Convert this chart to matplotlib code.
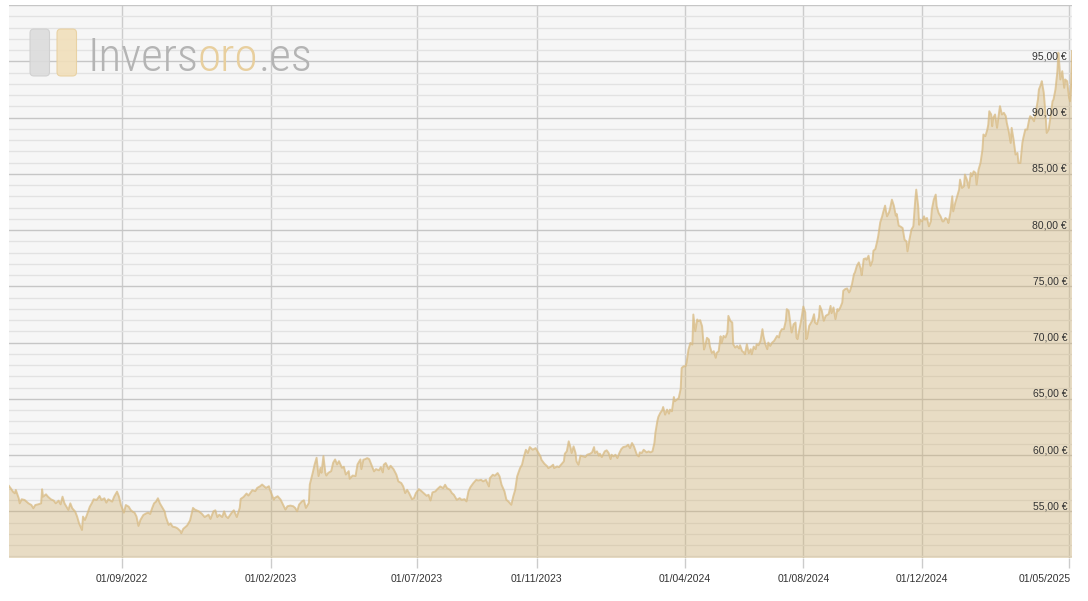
import numpy as np
import matplotlib
matplotlib.use('Agg')
import matplotlib.pyplot as plt
import matplotlib.dates as mdates
import matplotlib.transforms as mtransforms
from matplotlib import font_manager
from matplotlib.patches import FancyBboxPatch
from matplotlib.ticker import MultipleLocator

# price, day offsets counted from start_date
start_date = '2022-05-08'
days = [
    0, 3, 4, 6, 7, 10, 11, 13, 16, 20, 23, 25, 27, 30, 33, 34, 35, 38, 40, 43,
    46, 48, 51, 53, 55, 57, 59, 61, 63, 65, 68, 70, 72, 75, 76, 78, 80, 83, 85, 87,
    90, 93, 95, 98, 100, 102, 106, 108, 111, 113, 115, 118, 120, 123, 125, 127, 129, 131, 133, 135,
    138, 141, 143, 145, 147, 149, 151, 153, 155, 158, 160, 161, 164, 166, 168, 171, 173, 176, 177, 179,
    183, 186, 189, 191, 195, 198, 201, 205, 207, 210, 212, 214, 216, 219, 221, 223, 225, 229, 231, 234,
    237, 238, 241, 244, 246, 248, 250, 253, 255, 258, 260, 262, 264, 267, 268, 270, 272, 273, 276, 279,
    281, 284, 286, 289, 292, 294, 296, 298, 301, 303, 305, 308, 309, 312, 314, 316, 318, 320, 321, 323,
    325, 326, 328, 331, 333, 335, 337, 339, 342, 344, 346, 349, 350, 353, 356, 358, 361, 362, 364, 366,
    368, 370, 373, 375, 377, 380, 382, 384, 385, 387, 390, 392, 395, 398, 400, 403, 405, 407, 409, 411,
    414, 416, 418, 421, 423, 426, 429, 431, 433, 435, 438, 440, 443, 446, 448, 450, 453, 455, 457, 460,
    463, 465, 468, 470, 472, 474, 477, 480, 482, 485, 487, 490, 493, 494, 497, 499, 502, 504, 506, 509,
    511, 513, 516, 518, 520, 522, 525, 527, 529, 531, 533, 535, 538, 541, 543, 546, 547, 550, 553, 554,
    557, 559, 560, 563, 565, 567, 570, 571, 573, 575, 577, 578, 580, 582, 583, 585, 587, 590, 592, 594,
    597, 599, 601, 602, 604, 606, 607, 609, 612, 614, 616, 618, 619, 621, 623, 625, 627, 629, 631, 634,
    636, 638, 640, 642, 643, 645, 647, 648, 650, 652, 655, 657, 659, 661, 663, 664, 666, 667, 669, 671,
    672, 674, 676, 678, 679, 681, 683, 684, 686, 688, 690, 691, 693, 695, 696, 698, 700, 702, 703, 705,
    707, 708, 710, 712, 714, 715, 717, 719, 720, 722, 724, 726, 727, 729, 731, 732, 734, 736, 738, 739,
    741, 743, 744, 746, 748, 750, 751, 753, 755, 756, 758, 760, 762, 763, 765, 767, 768, 770, 772, 774,
    775, 777, 779, 780, 782, 784, 786, 787, 789, 791, 792, 794, 796, 798, 799, 801, 803, 804, 806, 808,
    809, 810, 812, 814, 815, 816, 818, 819, 820, 822, 825, 827, 828, 830, 832, 833, 835, 837, 839, 840,
    842, 844, 845, 847, 849, 851, 852, 854, 856, 857, 859, 861, 863, 864, 866, 868, 869, 871, 873, 875,
    876, 878, 880, 881, 883, 885, 887, 888, 890, 892, 893, 895, 897, 898, 900, 901, 902, 904, 905, 907,
    909, 911, 912, 914, 916, 918, 920, 922, 923, 925, 927, 929, 930, 931, 932, 934, 935, 936, 938, 940,
    941, 943, 945, 947, 948, 950, 952, 953, 955, 957, 959, 960, 962, 964, 965, 967, 969, 970, 972, 974,
    976, 977, 979, 981, 982, 984, 986, 988, 989, 991, 993, 994, 996, 998, 1000, 1001, 1003, 1005, 1006, 1007,
    1009, 1010, 1011, 1013, 1015, 1017, 1018, 1020, 1022, 1024, 1025, 1027, 1029, 1030, 1032, 1034, 1036, 1037, 1039, 1041,
    1042, 1044, 1046, 1048, 1049, 1051, 1053, 1054, 1055, 1057, 1058, 1060, 1061, 1063, 1065, 1066, 1068, 1070, 1072, 1073,
    1075, 1077, 1078, 1079, 1080, 1082, 1084, 1085, 1087, 1089, 1090, 1091, 1092,
]
prices = [
    57.25, 56.90, 56.75, 56.60, 56.90, 56.16, 55.71, 56.07, 56.01, 55.71, 55.56, 55.27, 55.56, 55.62, 55.71, 56.96, 56.30, 56.51, 56.30, 56.07,
    55.95, 55.71, 55.95, 55.62, 56.30, 55.71, 55.41, 55.12, 55.71, 55.27, 54.97, 54.53, 53.93, 53.34, 54.53, 54.23, 54.67, 55.41, 55.71, 56.07,
    56.01, 56.36, 56.01, 56.16, 55.77, 56.07, 55.86, 56.30, 56.75, 56.30, 55.56, 54.88, 55.56, 55.41, 55.12, 54.97, 54.88, 54.53, 53.70, 54.23,
    54.67, 54.82, 54.88, 54.76, 55.27, 55.71, 55.86, 56.16, 55.71, 55.27, 54.97, 54.53, 53.79, 53.93, 53.64, 53.58, 53.49, 53.25, 53.05, 53.44,
    53.74, 54.19, 55.30, 55.15, 55.00, 54.79, 54.49, 54.70, 54.32, 55.00, 55.09, 54.49, 54.70, 54.49, 55.00, 54.55, 54.40, 54.91, 55.09, 54.49,
    55.30, 56.10, 56.28, 56.58, 56.40, 56.64, 56.88, 56.79, 57.08, 57.23, 57.38, 57.23, 57.08, 57.23, 56.93, 56.49, 56.04, 56.19, 56.34, 56.04,
    55.68, 55.15, 55.45, 55.51, 55.45, 55.30, 55.00, 55.60, 55.89, 55.98, 55.30, 55.74, 57.38, 58.42, 59.17, 59.76, 58.13, 58.87, 58.42, 59.91,
    58.42, 58.18, 58.42, 58.57, 59.32, 59.61, 59.17, 59.46, 58.87, 58.96, 58.27, 58.57, 57.89, 58.18, 58.13, 59.17, 59.61, 58.75, 59.58, 59.64,
    59.73, 59.64, 58.99, 58.55, 58.75, 58.64, 58.93, 58.46, 59.14, 59.29, 58.75, 59.05, 58.75, 58.25, 57.66, 57.51, 57.21, 56.62, 56.91, 56.62,
    56.08, 56.17, 56.62, 56.97, 56.85, 56.62, 56.38, 56.47, 55.96, 56.68, 56.77, 56.97, 57.21, 57.06, 57.36, 57.06, 56.91, 56.62, 56.47, 56.02,
    56.17, 56.02, 56.08, 55.88, 56.77, 57.15, 57.51, 57.80, 57.74, 57.80, 57.66, 57.80, 57.21, 57.95, 58.25, 58.16, 58.40, 58.10, 57.36, 56.77,
    56.02, 55.88, 55.58, 56.32, 56.91, 58.10, 58.84, 59.14, 59.88, 60.47, 60.18, 60.71, 60.47, 60.62, 60.33, 59.88, 59.58, 59.23, 58.99, 58.84,
    58.99, 59.14, 58.84, 58.99, 58.93, 59.14, 59.44, 60.12, 60.33, 61.22, 60.62, 60.18, 60.77, 60.18, 59.44, 59.14, 59.94, 59.88, 59.82, 60.03,
    60.12, 60.24, 60.71, 60.18, 60.33, 59.94, 60.12, 59.82, 60.33, 60.42, 60.18, 59.64, 60.03, 59.88, 60.03, 59.73, 60.18, 60.53, 60.71, 60.77,
    60.92, 60.62, 61.07, 60.77, 60.53, 60.03, 59.88, 60.24, 60.18, 60.47, 60.24, 60.33, 60.24, 60.33, 61.07, 61.96, 63.00, 63.38, 63.74, 63.98,
    64.27, 63.59, 64.04, 63.68, 64.04, 63.89, 65.16, 64.78, 64.93, 65.07, 65.88, 67.74, 67.89, 67.89, 68.19, 69.38, 69.97, 69.82, 72.49, 71.01,
    72.05, 71.90, 71.99, 71.45, 69.38, 69.67, 70.42, 70.27, 69.67, 69.08, 69.23, 68.64, 69.08, 69.23, 70.56, 69.94, 70.59, 70.45, 70.89, 72.37,
    71.93, 71.78, 69.85, 69.55, 69.70, 69.47, 69.76, 69.26, 69.11, 68.96, 69.85, 69.05, 69.41, 68.96, 69.64, 69.41, 69.85, 69.76, 70.15, 71.19,
    70.59, 69.85, 69.41, 70.00, 69.70, 70.00, 70.15, 70.30, 70.59, 70.45, 70.89, 71.19, 71.19, 71.93, 72.97, 72.82, 71.48, 70.89, 71.63, 71.78,
    70.45, 70.30, 71.19, 72.08, 72.67, 73.20, 72.67, 70.30, 70.45, 71.48, 71.93, 72.52, 71.78, 71.63, 72.23, 73.26, 72.82, 71.93, 72.37, 72.43,
    72.52, 73.26, 72.61, 73.12, 72.08, 72.97, 72.82, 73.12, 73.56, 74.60, 74.75, 74.81, 74.45, 74.60, 75.19, 76.08, 76.23, 76.82, 77.12, 76.53,
    75.99, 77.42, 77.48, 77.36, 77.72, 76.82, 77.27, 78.16, 78.31, 79.05, 79.50, 80.68, 81.22, 81.57, 82.17, 81.63, 81.22, 81.57, 81.87, 82.70,
    82.17, 81.28, 81.42, 80.39, 80.30, 80.18, 79.14, 78.99, 78.10, 79.14, 80.03, 80.33, 81.51, 82.70, 83.59, 82.11, 80.47, 80.92, 80.77, 81.22,
    80.92, 81.07, 80.33, 80.77, 81.81, 82.70, 83.15, 82.11, 81.51, 81.22, 80.77, 80.77, 81.07, 80.92, 80.62, 81.51, 83.00, 81.66, 82.40, 83.00,
    83.59, 84.48, 83.74, 83.89, 84.93, 84.48, 83.74, 85.07, 84.78, 85.22, 85.07, 84.04, 85.37, 85.96, 87.15, 88.49, 88.34, 88.93, 89.38, 90.56,
    90.27, 89.23, 89.97, 90.27, 89.08, 90.42, 91.01, 90.27, 90.42, 90.12, 89.53, 88.78, 87.74, 89.08, 88.04, 86.71, 86.85, 85.96, 85.96, 87.74,
    88.19, 88.93, 88.93, 89.82, 90.12, 89.97, 89.67, 90.12, 90.56, 91.60, 92.49, 92.94, 93.23, 92.20, 90.12, 88.63, 88.93, 90.12, 91.45, 91.60,
    92.49, 94.12, 95.76, 94.72, 93.38, 94.12, 92.64, 93.38, 93.23, 91.75, 91.45, 92.79, 95.90,
]
tick_dates = ['2022-09-01', '2023-02-01', '2023-07-01', '2023-11-01',
              '2024-04-01', '2024-08-01', '2024-12-01', '2025-05-01']
price_ticks = [55, 60, 65, 70, 75, 80, 85, 90, 95]

dates = np.datetime64(start_date) + np.array(days)

plt.rcParams['font.family'] = ['Liberation Sans', 'DejaVu Sans']

fig = plt.figure(figsize=(10.88, 6.01), dpi=100)
ax = fig.add_axes([9 / 1088, 43 / 601, 1063 / 1088, 553 / 601])
ax.set_facecolor('#f6f6f6')

ax.fill_between(dates, prices, 0, color='#d0ae69', alpha=0.35, lw=0)
ax.plot(dates, prices, color='#d8ba82', lw=1.4, alpha=0.75)

ax.set_xlim(dates[0], dates[-1])
ax.set_ylim(50.85, 100)
ax.yaxis.set_major_locator(MultipleLocator(5))
ax.yaxis.set_minor_locator(MultipleLocator(1))
ax.grid(axis='y', which='minor', color='#e2e2e2', lw=1)
ax.grid(axis='y', which='major', color='#c6c6c6', lw=1)
ax.set_xticks(np.array(tick_dates, dtype='datetime64[D]'))
ax.xaxis.set_major_formatter(mdates.DateFormatter('%d/%m/%Y'))
ax.grid(axis='x', color='#cccccc', lw=1)
ax.set_axisbelow(True)
ax.tick_params(axis='x', length=7.2, width=1, color='#cccccc', labelsize=7.5,
               labelcolor='#333333', pad=4.5)
ax.tick_params(axis='y', which='both', left=False, labelleft=False)
for s in ax.spines.values():
    s.set_visible(False)

# last date label is pushed left so it stays inside the figure
last = ax.get_xticklabels()[-1]
last.set_horizontalalignment('right')
last.set_transform(last.get_transform() + mtransforms.ScaledTranslation(2 / 100, 0, fig.dpi_scale_trans))

for v in price_ticks:
    ax.text(0.9953, v, f'{v:.2f} €'.replace('.', ','), transform=ax.get_yaxis_transform(),
            ha='right', va='bottom', fontsize=7.5, color='#333333')

# watermark logo
for x0, fc, ec in [(0.30, '#dcdcdc', '#cfcfcf'), (0.57, '#f1dfba', '#e8d09f')]:
    fig.add_artist(FancyBboxPatch((x0, 5.25), 0.195, 0.47, boxstyle='round,pad=0,rounding_size=0.04',
                                  transform=fig.dpi_scale_trans, fc=fc, ec=ec, lw=0.8, alpha=0.9))

installed = {f.name for f in font_manager.fontManager.ttflist}
wm_font, wm_size = 'Liberation Sans', 27
for name, size in [('Roboto Condensed', 34), ('Liberation Sans Narrow', 30)]:
    if name in installed:
        wm_font, wm_size = name, size
        break
wm = dict(fontsize=wm_size, family=[wm_font, 'DejaVu Sans'], weight='light',
          va='baseline', annotation_clip=False)
t1 = ax.annotate('Invers', xy=(87 / 1088, (601 - 71) / 601), xycoords='figure fraction',
                 color='#b4b4b4', **wm)
t2 = ax.annotate('oro', xy=(1, 0), xycoords=t1, color='#e8cf9e', **wm)
t3 = ax.annotate('.es', xy=(1, 0), xycoords=t2, color='#b4b4b4', **wm)
for t in (t2, t3):
    t.set_va('bottom')

fig.savefig('out.png', dpi=100)
